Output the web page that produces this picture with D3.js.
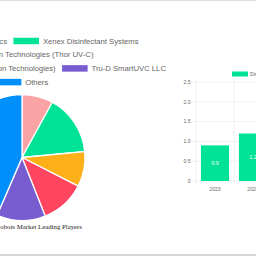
<!DOCTYPE html>
<html>
<head>
<meta charset="utf-8">
<script src="https://cdn.jsdelivr.net/npm/d3@7"></script>
<style>
  body { margin: 0; background: #fff; }
  svg { display: block; }
</style>
</head>
<body>
<svg id="chart" width="256" height="256"></svg>
<script>
// leading players (pie)
const players = [
  'Blue Ocean Robotics',
  'Xenex Disinfectant Systems',
  'Finsen Technologies (Thor UV-C)',
  'Skytron (Infection Prevention Technologies)',
  'Tru-D SmartUVC LLC',
  'Others'
]
const shares = [8, 15.5, 9, 11.5, 12.5, 43.5]
const playerColors = ['#f9a3a4', '#00e396', '#feb019', '#ff4560', '#775dd0', '#008ffb']
const pieTitle = 'UV Disinfection Robots Market Leading Players'

// market size (bars)
const years = ['2023', '2024']
const marketSize = [0.9, 1.2]
const sizeTicks = [0, 0.5, 1, 1.5, 2, 2.5]
const sizeLabel = 'Disinfection Robots Market Size (USD Billion)'

const svg = d3.select('#chart')

// card borders
svg.append('line')
  .attr('x1', 0).attr('x2', 256).attr('y1', 0.5).attr('y2', 0.5)
  .attr('stroke', '#dcdcdc').attr('stroke-width', 1)
svg.append('line')
  .attr('x1', 0).attr('x2', 256).attr('y1', 255).attr('y2', 255)
  .attr('stroke', '#d6d6d6').attr('stroke-width', 2)

// ---------- pie ----------
const cx = 22
const cy = 157.5
const radius = 63

// legend, laid out in centered rows like chart.js
const legendFont = 7.7
const boxW = 25.6
const boxH = 6.5
const itemGap = 6.4
const maxRow = 310
const rowY0 = 41
const rowStep = 13.7

const legendG = svg.append('g').attr('id', 'pie-legend')
const measure = legendG.append('text')
  .attr('font-family', 'Liberation Sans, Arial, sans-serif')
  .attr('font-size', legendFont)
const itemWidths = players.map((p) => {
  measure.text(p)
  return boxW + legendFont / 2 + measure.node().getComputedTextLength()
})
measure.remove()

const rows = []
let current = []
let currentW = 0
itemWidths.forEach((w, i) => {
  const add = current.length ? itemGap + w : w
  if (current.length && currentW + add > maxRow) {
    rows.push({ items: current, width: currentW })
    current = [i]
    currentW = w
  } else {
    current.push(i)
    currentW += add
  }
})
rows.push({ items: current, width: currentW })

rows.forEach((row, r) => {
  let x = cx - row.width / 2
  const y = rowY0 + r * rowStep
  row.items.forEach((i) => {
    legendG.append('rect')
      .attr('x', x).attr('y', y - boxH / 2)
      .attr('width', boxW).attr('height', boxH)
      .attr('fill', playerColors[i])
    legendG.append('text')
      .attr('x', x + boxW + legendFont / 2)
      .attr('y', y)
      .attr('dy', '0.35em')
      .attr('font-family', 'Liberation Sans, Arial, sans-serif')
      .attr('font-size', legendFont)
      .attr('fill', '#666')
      .text(players[i])
    x += itemWidths[i] + itemGap
  })
})

const pie = d3.pie().sort(null).value((d) => d)
const arc = d3.arc().innerRadius(0).outerRadius(radius)

svg.append('g')
  .attr('transform', `translate(${cx},${cy})`)
  .selectAll('path')
  .data(pie(shares))
  .join('path')
  .attr('d', arc)
  .attr('fill', (d, i) => playerColors[i])
  .attr('stroke', '#fff')
  .attr('stroke-width', 1.3)

svg.append('text')
  .attr('x', 82)
  .attr('y', 228.5)
  .attr('text-anchor', 'end')
  .attr('font-family', 'Liberation Serif, Times New Roman, serif')
  .attr('font-size', 6.8)
  .attr('fill', '#222')
  .text(pieTitle)

// ---------- bars ----------
const tickFont = 5.1
const x = d3.scaleBand().domain(years).range([196, 196 + 38 * years.length])
const y = d3.scaleLinear().domain([0, 2.5]).range([181, 82])
const grid = 'rgba(0,0,0,0.1)'

const barG = svg.append('g').attr('id', 'bars')

// horizontal grid + y ticks
barG.selectAll('line.hgrid')
  .data(sizeTicks)
  .join('line')
  .attr('class', 'hgrid')
  .attr('x1', 192).attr('x2', 300)
  .attr('y1', (d) => y(d)).attr('y2', (d) => y(d))
  .attr('stroke', grid)
  .attr('stroke-width', 0.6)

barG.selectAll('text.ytick')
  .data(sizeTicks)
  .join('text')
  .attr('class', 'ytick')
  .attr('x', 190.5)
  .attr('y', (d) => y(d))
  .attr('dy', '0.35em')
  .attr('text-anchor', 'end')
  .attr('font-family', 'Liberation Sans, Arial, sans-serif')
  .attr('font-size', tickFont)
  .attr('fill', '#666')
  .text((d) => (d === 0 ? '0' : d3.format('.1f')(d)))

// vertical grid at category boundaries
const bounds = years.map((d) => x(d)).concat([x.range()[1]])
barG.selectAll('line.vgrid')
  .data(bounds)
  .join('line')
  .attr('class', 'vgrid')
  .attr('x1', (d) => d).attr('x2', (d) => d)
  .attr('y1', y(2.5)).attr('y2', y(0) + 4)
  .attr('stroke', grid)
  .attr('stroke-width', 0.6)

barG.selectAll('text.xtick')
  .data(years)
  .join('text')
  .attr('class', 'xtick')
  .attr('x', (d) => x(d) + x.bandwidth() / 2)
  .attr('y', 189.3)
  .attr('dy', '0.35em')
  .attr('text-anchor', 'middle')
  .attr('font-family', 'Liberation Sans, Arial, sans-serif')
  .attr('font-size', tickFont)
  .attr('fill', '#666')
  .text((d) => d)

const barW = x.bandwidth() * 0.74
barG.selectAll('rect.bar')
  .data(marketSize)
  .join('rect')
  .attr('class', 'bar')
  .attr('x', (d, i) => x(years[i]) + (x.bandwidth() - barW) / 2)
  .attr('y', (d) => y(d))
  .attr('width', barW)
  .attr('height', (d) => y(0) - y(d))
  .attr('fill', '#00e396')

barG.selectAll('text.val')
  .data(marketSize)
  .join('text')
  .attr('class', 'val')
  .attr('x', (d, i) => x(years[i]) + x.bandwidth() / 2)
  .attr('y', (d) => (y(d) + y(0)) / 2)
  .attr('dy', '0.35em')
  .attr('text-anchor', 'middle')
  .attr('font-family', 'Liberation Sans, Arial, sans-serif')
  .attr('font-size', tickFont)
  .attr('fill', '#fff')
  .text((d) => d3.format('.1f')(d))

// bar legend
barG.append('rect')
  .attr('x', 232).attr('y', 71.5)
  .attr('width', 16).attr('height', 5)
  .attr('fill', '#00e396')
barG.append('text')
  .attr('x', 250)
  .attr('y', 74)
  .attr('dy', '0.35em')
  .attr('font-family', 'Liberation Sans, Arial, sans-serif')
  .attr('font-size', tickFont)
  .attr('fill', '#666')
  .text(sizeLabel)
</script>
</body>
</html>
